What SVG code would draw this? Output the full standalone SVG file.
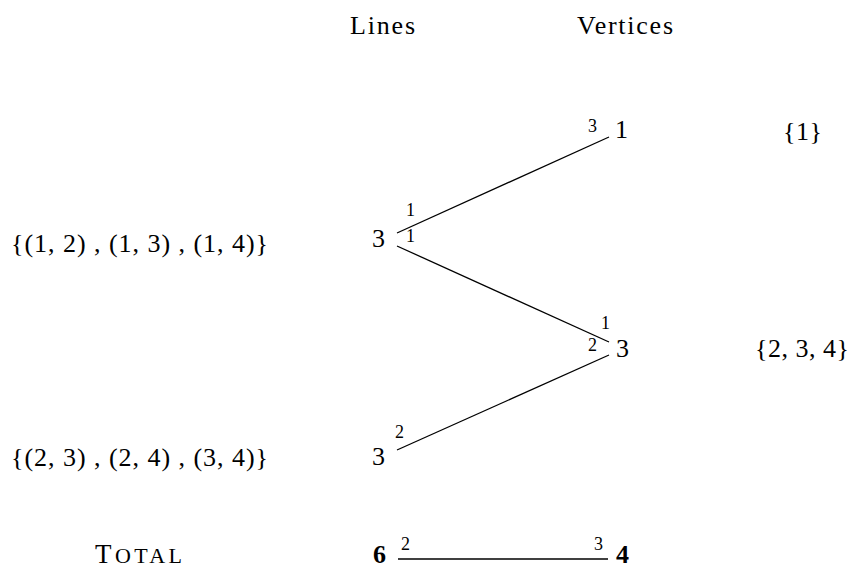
<svg xmlns="http://www.w3.org/2000/svg" width="853" height="570" viewBox="0 0 853 570">
<style>
text{font-family:"Liberation Serif","DejaVu Serif",serif;fill:#000}
.m{font-size:26px}
.s{font-size:18px}
.b{font-weight:bold}
.c line{stroke:#000;stroke-width:1.3}
</style>
<rect width="853" height="570" fill="#fff"/>
<g id="headers">
<text class="m" x="350" y="34" textLength="65">Lines</text>
<text class="m" x="577" y="34" textLength="96">Vertices</text>
</g>
<g id="set-a"><text class="m" x="11" y="252" textLength="257">{(1, 2) , (1, 3) , (1, 4)}</text></g>
<g id="set-b"><text class="m" x="11" y="466" textLength="257">{(2, 3) , (2, 4) , (3, 4)}</text></g>
<g id="total"><text x="95" y="563" font-size="27" textLength="87">T<tspan font-size="22">OTAL</tspan></text></g>
<g id="line-a"><text class="m" x="372" y="247">3</text></g>
<g id="line-b"><text class="m" x="372" y="465">3</text></g>
<g id="line-total"><text class="m b" x="373" y="563">6</text></g>
<g id="vertex-1"><text class="m" x="615" y="138">1</text></g>
<g id="vertex-3"><text class="m" x="616" y="357">3</text></g>
<g id="vertex-total"><text class="m b" x="616" y="563">4</text></g>
<g id="vset-1"><text class="m" x="783" y="140" textLength="39">{1}</text></g>
<g id="vset-234"><text class="m" x="755" y="357" textLength="94">{2, 3, 4}</text></g>
<g id="connectors" class="c">
<line x1="397" y1="233" x2="609" y2="137"/>
<line x1="397" y1="246" x2="609" y2="342"/>
<line x1="397" y1="450" x2="609" y2="355"/>
<line x1="398" y1="559" x2="608" y2="559"/>
</g>
<g id="labels">
<text class="s" x="406" y="216">1</text>
<text class="s" x="406" y="242">1</text>
<text class="s" x="588" y="132">3</text>
<text class="s" x="601" y="329">1</text>
<text class="s" x="588" y="351">2</text>
<text class="s" x="395" y="438">2</text>
<text class="s" x="401" y="550">2</text>
<text class="s" x="594" y="550">3</text>
</g>
</svg>
